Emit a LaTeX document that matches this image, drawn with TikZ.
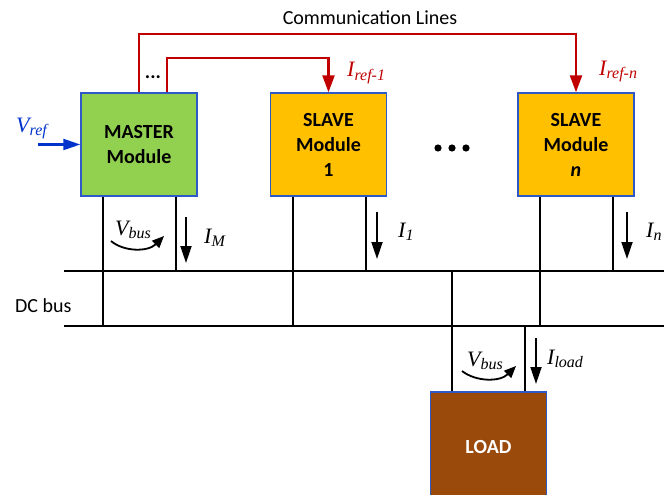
\documentclass[tikz,border=0pt]{standalone}
\usepackage{fontspec}
\setmainfont{Carlito}
\newfontfamily\lblfont{Liberation Serif}
\usetikzlibrary{arrows.meta}

\definecolor{commred}{HTML}{C00000}
\definecolor{refblue}{HTML}{0033CC}
\definecolor{edgeblue}{HTML}{2E59C6}
\definecolor{mastergreen}{HTML}{92D050}
\definecolor{slaveamber}{HTML}{FFC000}
\definecolor{loadbrown}{HTML}{9A4A0B}

% italic quantity with a lowered subscript
\newcommand\varlbl[2]{{\lblfont\itshape\fontsize{22}{22}\selectfont #1\raisebox{-0.35ex}{\fontsize{16}{16}\selectfont #2}}}

\tikzset{
  module/.style={draw=edgeblue, line width=1.4pt, minimum width=116pt,
    minimum height=103pt, align=center, inner sep=0pt,
    font=\fontsize{20}{25}\selectfont\bfseries},
  wire/.style={line width=2.6pt, black},
  comm/.style={line width=2.4pt, commred,
    -{Triangle[length=17pt,width=12pt]}},
  current/.style={line width=1.8pt, black,
    -{Triangle[length=17pt,width=11pt]}},
  refarrow/.style={line width=2.2pt, refblue,
    -{Triangle[length=17pt,width=11pt]}},
  voltarc/.style={line width=1.8pt, black,
    -{Triangle[length=12pt,width=10pt]}},
  lbl/.style={anchor=base west, inner sep=0pt},
  plain/.style={inner sep=0pt, font=\fontsize{20}{20}\selectfont}
}

\begin{document}
\begin{tikzpicture}[x=1pt,y=-1pt]
\clip (0,0) rectangle (664,495);

% modules
\node[module, fill=mastergreen] (master) at (139,144.5) {MASTER\\Module};
\node[module, fill=slaveamber] (slave1) at (328.5,144.5) {SLAVE\\Module\\1};
\node[module, fill=slaveamber] (slaven) at (576,144.5) {SLAVE\\Module\\\textit{n}};
\node[module, fill=loadbrown, text=white, minimum height=110pt] (load) at (488.5,447) {LOAD};

% DC bus rails
\coordinate (topL) at (64,271);
\coordinate (topR) at (664,271);
\coordinate (botL) at (64,326);
\coordinate (botR) at (664,326);
\draw[wire] (topL) -- (topR);
\draw[wire] (botL) -- (botR);

% module terminals
\coordinate (mA) at ([xshift=-36pt]master.south);
\coordinate (mB) at ([xshift=37pt]master.south);
\coordinate (sA) at ([xshift=-35.5pt]slave1.south);
\coordinate (sB) at ([xshift=37.5pt]slave1.south);
\coordinate (nA) at ([xshift=-36pt]slaven.south);
\coordinate (nB) at ([xshift=37pt]slaven.south);
\coordinate (lA) at ([xshift=-36.5pt]load.north);
\coordinate (lB) at ([xshift=36.5pt]load.north);

\draw[wire] (mA) -- (mA |- botL);
\draw[wire] (mB) -- (mB |- topL);
\draw[wire] (sA) -- (sA |- botL);
\draw[wire] (sB) -- (sB |- topL);
\draw[wire] (nA) -- (nA |- botL);
\draw[wire] (nB) -- (nB |- topL);
\draw[wire] (lA) -- (lA |- topL);
\draw[wire] (lB) -- (lB |- botL);

% communication lines
\coordinate (mC) at ([xshift=28pt]master.north);
\draw[comm] (master.north) -- ++(0,-58) -| (slaven.north);
\draw[comm] (mC) -- ++(0,-34) -| (slave1.north);

\node[plain] (commlbl) at (370,18) {Communication Lines};
\node[plain, anchor=base, font=\fontsize{20}{20}\selectfont\bfseries] (cdots) at (153,78) {...};
\foreach \x in {438,452,466} \fill (\x,148) circle (3.6);

% reference input
\coordinate (vin) at (38,144.5);
\draw[refarrow] (vin) -- (master.west);
\node[lbl, text=refblue] (vref) at (16,132) {\varlbl{V}{ref}};

\node[lbl, text=commred] (iref1) at (347,77) {\varlbl{I}{ref-1}};
\node[lbl, text=commred] (irefn) at (599,75) {\varlbl{I}{ref-n}};

% currents
\draw[current] (186,217) -- (186,263);
\draw[current] (377,212) -- (377,259);
\draw[current] (627,212) -- (627,259);
\draw[current] (536,338) -- (536,384);
\node[lbl] (im) at (204,243) {\varlbl{I}{M}};
\node[lbl] (i1) at (398,237) {\varlbl{I}{1}};
\node[lbl] (in) at (646,237) {\varlbl{I}{n}};
\node[lbl] (iload) at (547,364) {\varlbl{I}{load}};

% bus voltages
\draw[voltarc] (111,241) .. controls (124,252) and (148,252) .. (164,236);
\node[lbl] (vbus1) at (115,235) {\varlbl{V}{bus}};
\draw[voltarc] (462,371) .. controls (476,382) and (500,382) .. (516,366);
\node[lbl] (vbus2) at (467,366) {\varlbl{V}{bus}};

\node[plain, anchor=base west] (dcbus) at (15,312) {DC bus};
\end{tikzpicture}
\end{document}
